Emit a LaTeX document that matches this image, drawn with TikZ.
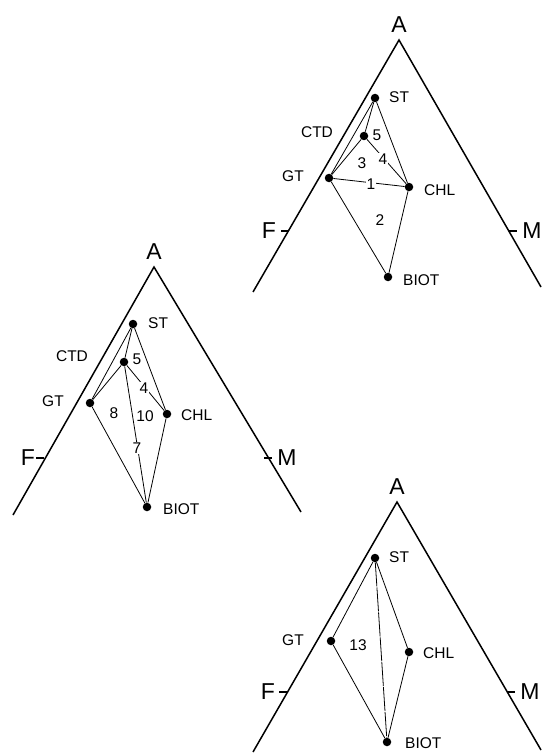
\documentclass[tikz,border=0pt]{standalone}
\usepackage{fontspec}
\setmainfont{Liberation Sans}
\begin{document}
\begin{tikzpicture}[x=1pt,y=-1pt,
  side/.style={line width=1.5pt},
  tie/.style={line width=0.8pt},
  dot/.style={circle,fill=black,inner sep=0pt,minimum size=8.5pt},
  big/.style={inner sep=0pt,font=\fontsize{23}{23}\selectfont},
  lab/.style={inner sep=0pt,font=\fontsize{15.5}{15.5}\selectfont},
  num/.style={inner sep=1pt,fill=white,font=\fontsize{15.5}{15.5}\selectfont}]
\useasboundingbox (0,0) rectangle (545,754);

% ---------- diagram 1 (top right) ----------
\coordinate (a1) at (399,40);
\coordinate (l1) at (253,292);
\coordinate (r1) at (541,287);
\draw[side] (l1) -- (a1) -- (r1);
\coordinate (ft1a) at (281,231); \coordinate (ft1b) at (289,231);
\coordinate (mt1a) at (509,231); \coordinate (mt1b) at (517,231);
\draw[side] (ft1a) -- (ft1b);
\draw[side] (mt1a) -- (mt1b);
\node[big] (A1) at (399,25) {A};
\node[big] (F1) at (269,231) {F};
\node[big] (M1) at (532,231) {M};
\node[dot] (st1) at (375,98) {};
\node[dot] (c1) at (364,136) {};
\node[dot] (gt1) at (329,178) {};
\node[dot] (chl1) at (409,187) {};
\node[dot] (bi1) at (388,277) {};
\draw[tie] (st1) -- (gt1);
\draw[tie] (st1) -- (c1);
\draw[tie] (st1) -- (chl1);
\draw[tie] (c1) -- (gt1);
\draw[tie] (c1) -- (chl1);
\draw[tie] (gt1) -- (chl1);
\draw[tie] (gt1) -- (bi1);
\draw[tie] (chl1) -- (bi1);
\node[lab,anchor=west] (stl1) at (389,97) {ST};
\node[lab] (ctd1) at (317,132) {CTD};
\node[lab] (gtl1) at (293,176) {GT};
\node[lab,anchor=west] (chll1) at (424,190) {CHL};
\node[lab,anchor=west] (bil1) at (403,280) {BIOT};
\node[lab] (n5a) at (377,135) {5};
\node[lab] (n3a) at (362,163) {3};
\node[num] (n4a) at (383,159) {4};
\node[num] (n1a) at (371,184) {1};
\node[lab] (n2a) at (380,220) {2};

% ---------- diagram 2 (middle left) ----------
\coordinate (a2) at (154,267);
\coordinate (l2) at (13,515);
\coordinate (r2) at (301,512);
\draw[side] (l2) -- (a2) -- (r2);
\coordinate (ft2a) at (36,458); \coordinate (ft2b) at (44,458);
\coordinate (mt2a) at (264,458); \coordinate (mt2b) at (272,458);
\draw[side] (ft2a) -- (ft2b);
\draw[side] (mt2a) -- (mt2b);
\node[big] (A2) at (154,252) {A};
\node[big] (F2) at (28,458) {F};
\node[big] (M2) at (287,458) {M};
\node[dot] (st2) at (133,324) {};
\node[dot] (c2) at (124,362) {};
\node[dot] (gt2) at (90,403) {};
\node[dot] (chl2) at (167,414) {};
\node[dot] (bi2) at (147,507) {};
\draw[tie] (st2) -- (gt2);
\draw[tie] (st2) -- (c2);
\draw[tie] (st2) -- (chl2);
\draw[tie] (c2) -- (gt2);
\draw[tie] (c2) -- (chl2);
\draw[tie] (c2) -- (bi2);
\draw[tie] (gt2) -- (bi2);
\draw[tie] (chl2) -- (bi2);
\node[lab,anchor=west] (stl2) at (148,323) {ST};
\node[lab] (ctd2) at (72,356) {CTD};
\node[lab] (gtl2) at (53,401) {GT};
\node[lab,anchor=west] (chll2) at (181,415) {CHL};
\node[lab,anchor=west] (bil2) at (163,509) {BIOT};
\node[lab] (n5b) at (137,359) {5};
\node[num] (n4b) at (144,388) {4};
\node[lab] (n8b) at (114,413) {8};
\node[lab] (n10b) at (145,416) {10};
\node[num] (n7b) at (137,448) {7};

% ---------- diagram 3 (bottom right) ----------
\coordinate (a3) at (397,502);
\coordinate (l3) at (253,752);
\coordinate (r3) at (541,750);
\draw[side] (l3) -- (a3) -- (r3);
\coordinate (ft3a) at (279,692); \coordinate (ft3b) at (287,692);
\coordinate (mt3a) at (507,692); \coordinate (mt3b) at (515,692);
\draw[side] (ft3a) -- (ft3b);
\draw[side] (mt3a) -- (mt3b);
\node[big] (A3) at (397,487) {A};
\node[big] (F3) at (268,692) {F};
\node[big] (M3) at (530,692) {M};
\node[dot] (st3) at (375,558) {};
\node[dot] (gt3) at (331,641) {};
\node[dot] (chl3) at (409,652) {};
\node[dot] (bi3) at (387,742) {};
\draw[tie] (st3) -- (gt3);
\draw[tie] (st3) -- (chl3);
\draw[tie,dash pattern=on 24pt off 1pt] (st3) -- (bi3);
\draw[tie] (gt3) -- (bi3);
\draw[tie] (chl3) -- (bi3);
\node[lab,anchor=west] (stl3) at (389,557) {ST};
\node[lab] (gtl3) at (293,640) {GT};
\node[lab,anchor=west] (chll3) at (423,653) {CHL};
\node[lab,anchor=west] (bil3) at (405,743) {BIOT};
\node[lab] (n13c) at (358,645) {13};
\end{tikzpicture}
\end{document}
